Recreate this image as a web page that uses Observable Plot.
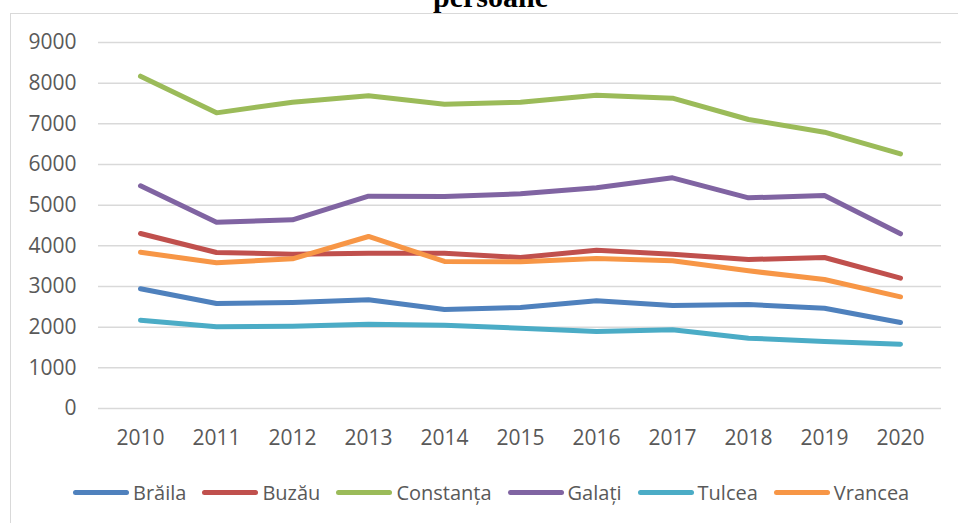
<!DOCTYPE html>
<html>
<head>
<meta charset="utf-8">
<script src="https://cdn.jsdelivr.net/npm/d3@7"></script>
<script src="https://cdn.jsdelivr.net/npm/@observablehq/plot@0.6"></script>
<style>
  html, body { margin: 0; padding: 0; background: #fff; }
  #page { position: relative; width: 958px; height: 523px; overflow: hidden; font-family: "Open Sans", sans-serif; }
  #frame { position: absolute; left: 10px; top: 13px; width: 980px; height: 540px; border: 1.5px solid #d9d9d9; box-sizing: border-box; }
  #title { position: absolute; left: 0; width: 981px; top: -18px; text-align: center; font-family: "Liberation Serif", serif; font-weight: bold; font-size: 30px; line-height: 30px; color: #000; }
  #chart { position: absolute; left: 0; top: 0; }
  #legend { position: absolute; left: 73px; top: 478px; height: 28px; display: flex; align-items: center; font-size: 20px; color: #595959; white-space: nowrap; }
  .item { display: flex; align-items: center; margin-right: 16px; }
  .sw { width: 56px; height: 5px; border-radius: 3px; margin-right: 4px; }
</style>
</head>
<body>
<div id="page">
  <div id="frame"></div>
  <div id="title">persoane</div>
  <div id="chart"></div>
  <div id="legend"></div>
</div>
<script>
const years = ["2010","2011","2012","2013","2014","2015","2016","2017","2018","2019","2020"];
const seriesNames = ["Brăila","Buzău","Constanța","Galați","Tulcea","Vrancea"];
const seriesColors = ["#4F81BD","#C0504D","#9BBB59","#8064A2","#4BACC6","#F79646"];
const braila    = [2943, 2582, 2607, 2672, 2434, 2484, 2648, 2533, 2557, 2467, 2115];
const buzau     = [4303, 3836, 3795, 3820, 3820, 3713, 3893, 3795, 3664, 3713, 3205];
const constanta = [8172, 7270, 7533, 7689, 7484, 7533, 7705, 7631, 7107, 6795, 6262];
const galati    = [5475, 4582, 4639, 5221, 5213, 5279, 5426, 5672, 5180, 5238, 4295];
const tulcea    = [2172, 2008, 2025, 2074, 2049, 1975, 1893, 1934, 1730, 1648, 1582];
const vrancea   = [3844, 3582, 3680, 4230, 3615, 3607, 3689, 3631, 3385, 3172, 2746];
const yTicks = [0, 1000, 2000, 3000, 4000, 5000, 6000, 7000, 8000, 9000];

const seriesValues = [braila, buzau, constanta, galati, tulcea, vrancea];
const data = [];
seriesNames.forEach((name, i) => {
  years.forEach((yr, j) => data.push({name, year: yr, value: seriesValues[i][j]}));
});

const chart = Plot.plot({
  width: 958,
  height: 460,
  marginLeft: 98,
  marginRight: 17,
  marginTop: 42,
  marginBottom: 52,
  style: { fontFamily: "'Open Sans', sans-serif", fontSize: "21px", color: "#595959", background: "transparent", overflow: "visible" },
  x: { type: "point", domain: years, padding: 0.5 },
  y: { domain: [0, 9000] },
  color: { domain: seriesNames, range: seriesColors },
  marks: [
    Plot.ruleY(yTicks, { stroke: "#d9d9d9", strokeWidth: 1.5 }),
    Plot.line(data, { x: "year", y: "value", z: "name", stroke: "name", strokeWidth: 5, strokeLinecap: "round", strokeLinejoin: "round" }),
    Plot.axisX({ tickSize: 0, tickPadding: 22, label: null, fontSize: 21 }),
    Plot.axisY(yTicks, { tickSize: 0, tickPadding: 22, label: null, fontSize: 21, tickFormat: d => String(d) })
  ]
});
document.getElementById("chart").appendChild(chart);

const legend = document.getElementById("legend");
seriesNames.forEach((name, i) => {
  const item = document.createElement("div");
  item.className = "item";
  const sw = document.createElement("div");
  sw.className = "sw";
  sw.style.background = seriesColors[i];
  const label = document.createElement("span");
  label.textContent = name;
  item.appendChild(sw);
  item.appendChild(label);
  legend.appendChild(item);
});
</script>
</body>
</html>
